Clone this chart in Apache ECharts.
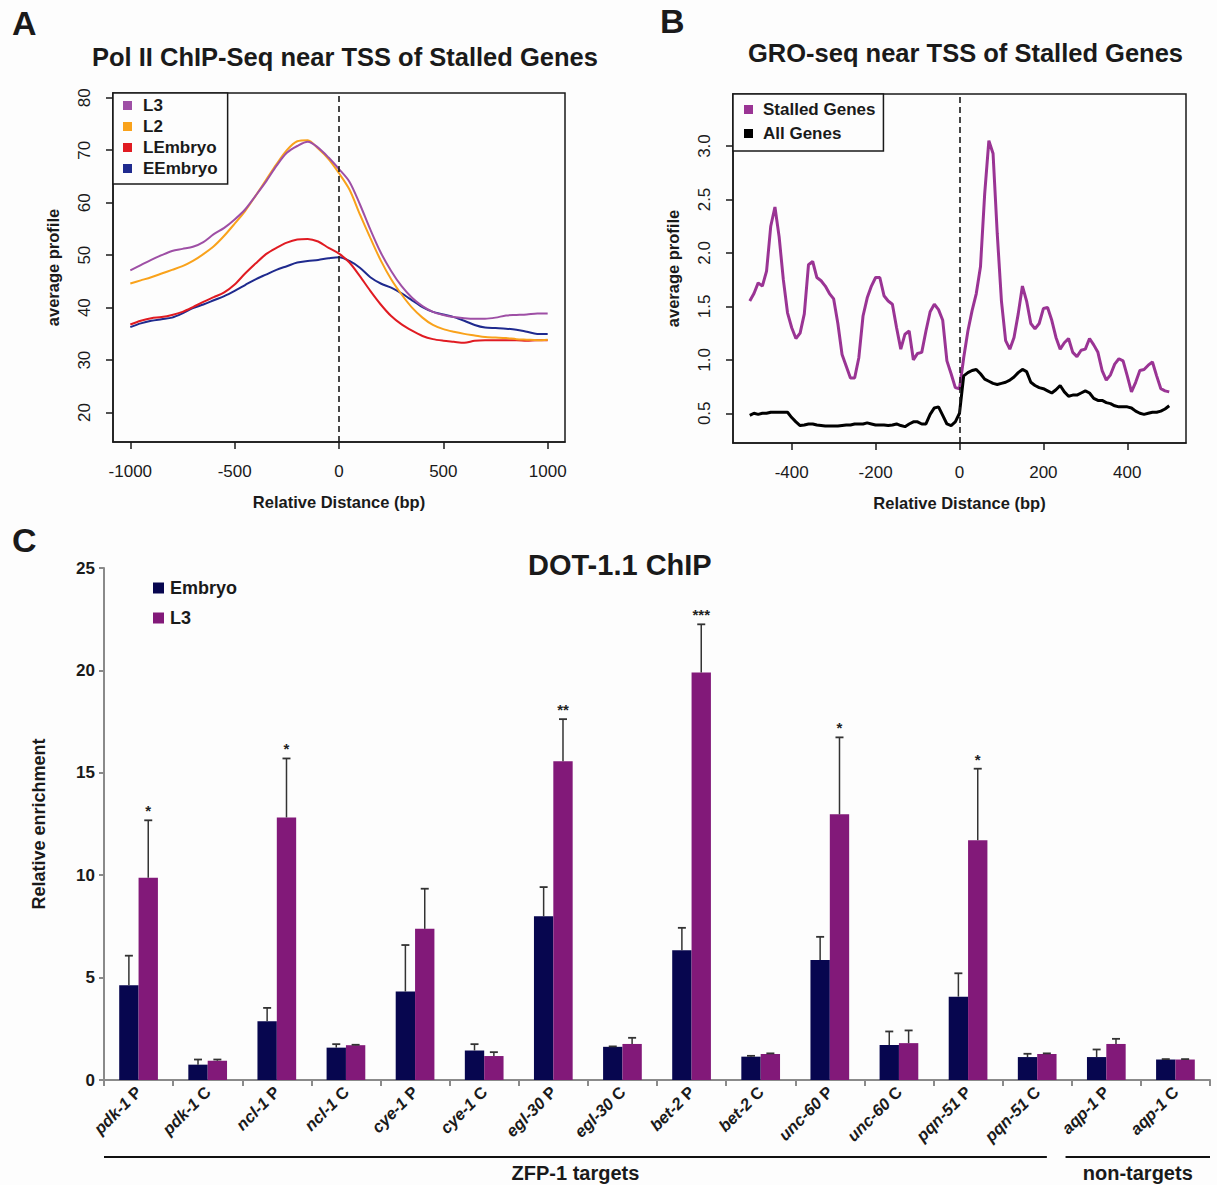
<!DOCTYPE html>
<html><head><meta charset="utf-8">
<script src="https://cdn.jsdelivr.net/npm/echarts@6/dist/echarts.min.js"></script>
<style>
html,body{margin:0;padding:0;background:#fdfdfd;}
#wrap{position:relative;width:1217px;height:1185px;background:#fdfdfd;overflow:hidden;}
#a{position:absolute;left:0;top:0;width:608px;height:520px;}
#b{position:absolute;left:608px;top:0;width:609px;height:520px;}
#c{position:absolute;left:0;top:520px;width:1217px;height:665px;}
</style></head><body>
<div id="wrap"><div id="a"></div><div id="b"></div><div id="c"></div></div>
<script>
// ---------------- Panel A data ----------------
var XA = [-1000,-950,-900,-850,-800,-750,-700,-650,-600,-550,-500,-450,-400,-350,-300,-250,-200,-150,-100,-50,0,50,100,150,200,250,300,350,400,450,500,550,600,650,700,750,800,850,900,950,1000];
var A_L3 = [47.1,48.1,49.1,50.0,50.8,51.2,51.6,52.5,54.0,55.2,56.8,58.7,61.3,64.0,67.0,69.5,70.8,71.6,70.5,68.6,66.4,64.0,59.7,54.9,50.5,47.0,44.1,41.9,40.3,39.2,38.6,38.2,38.0,37.9,37.9,38.1,38.5,38.6,38.7,38.9,38.9];
var A_L2 = [44.6,45.2,45.8,46.5,47.2,47.9,48.9,50.2,51.7,53.7,56.0,58.4,61.3,64.3,67.3,70.0,71.7,71.9,70.3,68.3,65.6,62.5,57.8,53.3,49.0,45.4,42.5,40.0,38.1,36.7,35.9,35.4,35.0,34.7,34.4,34.3,34.2,34.0,33.9,33.8,33.9];
var A_LEMB = [36.8,37.5,38.0,38.2,38.6,39.2,40.1,41.1,42.0,42.9,44.4,46.5,48.4,50.2,51.4,52.4,53.0,53.1,52.6,51.4,50.3,48.6,46.0,43.2,40.6,38.4,36.8,35.6,34.6,34.0,33.7,33.5,33.3,33.7,33.8,33.8,33.8,33.8,33.7,33.8,33.8];
var A_EEMB = [36.3,37.0,37.5,37.8,38.1,38.9,39.9,40.6,41.4,42.2,43.2,44.3,45.4,46.3,47.2,47.9,48.6,48.9,49.1,49.4,49.6,48.9,47.6,45.8,44.6,43.8,42.7,41.4,40.1,39.2,38.7,38.2,37.5,36.7,36.2,36.1,36.0,35.8,35.4,35.0,35.0];
var A_XTICKS = [-1000,-500,0,500,1000];
var A_YTICKS = [20,30,40,50,60,70,80];

// ---------------- Panel B data ----------------
var XB = [-500,-490,-480,-470,-460,-450,-440,-430,-420,-410,-400,-390,-380,-370,-360,-350,-340,-330,-320,-310,-300,-290,-280,-270,-260,-250,-240,-230,-220,-210,-200,-190,-180,-170,-160,-150,-140,-130,-120,-110,-100,-90,-80,-70,-60,-50,-40,-30,-20,-10,0,10,20,30,40,50,60,70,80,90,100,110,120,130,140,150,160,170,180,190,200,210,220,230,240,250,260,270,280,290,300,310,320,330,340,350,360,370,380,390,400,410,420,430,440,450,460,470,480,490,500];
var B_STALLED = [1.55,1.62,1.72,1.69,1.83,2.25,2.43,2.15,1.75,1.44,1.30,1.20,1.25,1.43,1.89,1.92,1.77,1.74,1.69,1.62,1.57,1.34,1.05,0.94,0.83,0.83,1.02,1.41,1.58,1.69,1.77,1.77,1.60,1.55,1.52,1.30,1.10,1.24,1.27,1.00,1.06,1.07,1.27,1.45,1.52,1.47,1.37,0.99,0.87,0.74,0.73,
  1.02,1.27,1.46,1.62,1.87,2.55,3.05,2.93,2.18,1.55,1.18,1.10,1.21,1.43,1.69,1.55,1.34,1.29,1.34,1.48,1.49,1.37,1.21,1.10,1.16,1.20,1.07,1.03,1.09,1.10,1.20,1.14,1.07,0.90,0.81,0.86,0.96,1.01,0.99,0.85,0.70,0.79,0.90,0.91,0.95,0.98,0.85,0.73,0.71,0.70];
var B_ALL = [0.48,0.50,0.49,0.50,0.50,0.51,0.51,0.51,0.51,0.51,0.46,0.42,0.385,0.39,0.40,0.40,0.39,0.385,0.38,0.38,0.38,0.38,0.385,0.39,0.39,0.40,0.40,0.40,0.41,0.40,0.39,0.39,0.39,0.385,0.39,0.40,0.385,0.375,0.40,0.42,0.42,0.40,0.40,0.49,0.55,0.56,0.48,0.40,0.385,0.42,0.50,
  0.85,0.88,0.90,0.91,0.87,0.82,0.80,0.78,0.77,0.78,0.79,0.81,0.84,0.88,0.91,0.89,0.79,0.76,0.74,0.73,0.71,0.69,0.72,0.76,0.70,0.66,0.67,0.67,0.69,0.71,0.69,0.64,0.62,0.62,0.60,0.59,0.57,0.56,0.56,0.56,0.55,0.52,0.50,0.49,0.50,0.51,0.51,0.52,0.54,0.57];
var B_XTICKS = [-400,-200,0,200,400];
var B_YTICKS = [0.5,1.0,1.5,2.0,2.5,3.0];

// ---------------- Panel C data ----------------
var C_CATS = ['pdk-1 P','pdk-1 C','ncl-1 P','ncl-1 C','cye-1 P','cye-1 C','egl-30 P','egl-30 C','bet-2 P','bet-2 C','unc-60 P','unc-60 C','pqn-51 P','pqn-51 C','aqp-1 P','aqp-1 C'];
var C_EMBRYO = [4.63,0.75,2.87,1.58,4.32,1.44,7.99,1.62,6.33,1.14,5.86,1.71,4.07,1.12,1.12,1.00];
var C_EMBRYO_ERR = [1.44,0.25,0.65,0.17,2.27,0.31,1.43,0.02,1.10,0.04,1.13,0.66,1.14,0.16,0.37,0.02];
var C_L3 = [9.87,0.94,12.82,1.70,7.38,1.17,15.57,1.76,19.90,1.27,12.97,1.80,11.71,1.27,1.76,1.00];
var C_L3_ERR = [2.81,0.06,2.88,0.02,1.96,0.19,2.05,0.30,2.35,0.03,3.76,0.62,3.49,0.03,0.25,0.02];
var C_STARS = ['*','','*','','','','**','','***','','*','','*','','',''];
var C_GROUPS = [{label:'ZFP-1 targets', from:0, to:13},{label:'non-targets', from:14, to:15}];
var C_YTICK_STEP = 5;

// ---------------- styling ----------------
var FONT = "'Liberation Sans', Arial, Helvetica, sans-serif";
var INK = '#1a1a1a';
var COL_A = {L3:'#9e4fa5', L2:'#f9a21b', LEmbryo:'#e01b22', EEmbryo:'#1f2a8e'};
var COL_B = {stalled:'#9a3494', all:'#000000'};
var COL_C = {emb:'#07064f', l3:'#821979'};
var BAR_FRAC = 0.28;

function zip(xs, ys){ return xs.map(function(x,i){ return [x, ys[i]]; }); }
function plain(v){ return String(v); }

function rAxisX(min, max, ticks, name){
  return {type:'value', min:min, max:max,
    axisLine:{show:true, onZero:false, lineStyle:{color:INK, width:1.5}},
    axisTick:{show:true, length:7, customValues:ticks, lineStyle:{color:INK, width:1.5}},
    axisLabel:{customValues:ticks, margin:21, fontSize:17, color:INK, fontFamily:FONT, formatter:plain},
    splitLine:{show:false},
    name:name, nameLocation:'middle', nameGap:51,
    nameTextStyle:{fontSize:16.5, fontWeight:'bold', color:INK, fontFamily:FONT}};
}
function rAxisY(min, max, ticks, name, fmt){
  return {type:'value', min:min, max:max,
    axisLine:{show:true, onZero:false, lineStyle:{color:INK, width:1.5}},
    axisTick:{show:true, length:7, customValues:ticks, lineStyle:{color:INK, width:1.5}},
    axisLabel:{customValues:ticks, margin:20, rotate:90, fontSize:17, color:INK, fontFamily:FONT, formatter:fmt},
    splitLine:{show:false},
    name:name, nameLocation:'middle', nameGap:52,
    nameTextStyle:{fontSize:16.5, fontWeight:'bold', color:INK, fontFamily:FONT}};
}
var dashLine = {silent:true, symbol:['none','none'], label:{show:false},
  lineStyle:{color:INK, width:1.6, type:[6,4]}, emphasis:{disabled:true}, data:[{xAxis:0}]};

// ---------------- Panel A ----------------
var chartA = echarts.init(document.getElementById('a'), null, {renderer:'svg'});
chartA.setOption({
  animation:false,
  textStyle:{fontFamily:FONT},
  title:[
    {text:'A', left:12, top:6, padding:0, textStyle:{fontSize:34, fontWeight:'bold', color:INK, fontFamily:FONT}},
    {text:'Pol II ChIP-Seq near TSS of Stalled Genes', left:92, top:44, padding:0, textStyle:{fontSize:25.5, fontWeight:'bold', color:INK, fontFamily:FONT}}
  ],
  legend:{left:113, top:93, orient:'vertical', icon:'rect', itemWidth:9, itemHeight:9, itemGap:4,
    padding:[4,10,7,10], borderColor:INK, borderWidth:1.5, backgroundColor:'#fdfdfd',
    textStyle:{fontSize:17, fontWeight:'bold', color:INK, lineHeight:17, padding:[0,0,0,6], fontFamily:FONT},
    data:['L3','L2','LEmbryo','EEmbryo']},
  grid:{left:113, top:93, width:452, height:349, show:true, borderColor:INK, borderWidth:1.5},
  xAxis:rAxisX(-1083, 1083, A_XTICKS, 'Relative Distance (bp)'),
  yAxis:rAxisY(14.4, 80.9, A_YTICKS, 'average profile', plain),
  series:[
    {name:'EEmbryo', type:'line', data:zip(XA, A_EEMB), showSymbol:false, smooth:0.3, lineStyle:{width:2, color:COL_A.EEmbryo}, itemStyle:{color:COL_A.EEmbryo}},
    {name:'LEmbryo', type:'line', data:zip(XA, A_LEMB), showSymbol:false, smooth:0.3, lineStyle:{width:2, color:COL_A.LEmbryo}, itemStyle:{color:COL_A.LEmbryo}},
    {name:'L2', type:'line', data:zip(XA, A_L2), showSymbol:false, smooth:0.3, lineStyle:{width:2, color:COL_A.L2}, itemStyle:{color:COL_A.L2}},
    {name:'L3', type:'line', data:zip(XA, A_L3), showSymbol:false, smooth:0.3, lineStyle:{width:2, color:COL_A.L3}, itemStyle:{color:COL_A.L3}, markLine:dashLine}
  ]
});

// ---------------- Panel B ----------------
var chartB = echarts.init(document.getElementById('b'), null, {renderer:'svg'});
chartB.setOption({
  animation:false,
  textStyle:{fontFamily:FONT},
  title:[
    {text:'B', left:52, top:4, padding:0, textStyle:{fontSize:34, fontWeight:'bold', color:INK, fontFamily:FONT}},
    {text:'GRO-seq near TSS of Stalled Genes', left:140, top:40, padding:0, textStyle:{fontSize:25.5, fontWeight:'bold', color:INK, fontFamily:FONT}}
  ],
  legend:{left:125, top:94, orient:'vertical', icon:'rect', itemWidth:9, itemHeight:9, itemGap:7,
    padding:[7,8,9,11], borderColor:INK, borderWidth:1.5, backgroundColor:'#fdfdfd',
    textStyle:{fontSize:17, fontWeight:'bold', color:INK, lineHeight:17, padding:[0,0,0,5], fontFamily:FONT},
    data:['Stalled Genes','All Genes']},
  grid:{left:125, top:94, width:453, height:349, show:true, borderColor:INK, borderWidth:1.5},
  xAxis:rAxisX(-540, 540, B_XTICKS, 'Relative Distance (bp)'),
  yAxis:rAxisY(0.222, 3.487, B_YTICKS, 'average profile', function(v){return v.toFixed(1);}),
  series:[
    {name:'Stalled Genes', type:'line', data:zip(XB, B_STALLED), showSymbol:false, lineStyle:{width:3, color:COL_B.stalled}, itemStyle:{color:COL_B.stalled}, markLine:dashLine},
    {name:'All Genes', type:'line', data:zip(XB, B_ALL), showSymbol:false, lineStyle:{width:3, color:COL_B.all}, itemStyle:{color:COL_B.all}}
  ]
});

// ---------------- Panel C ----------------
var errData = [];
C_CATS.forEach(function(c,i){
  errData.push([i, C_EMBRYO[i], C_EMBRYO_ERR[i], 0]);
  errData.push([i, C_L3[i], C_L3_ERR[i], 1]);
});
var starData = [];
C_CATS.forEach(function(c,i){ starData.push(''); starData.push(C_STARS[i]); });

var chartC = echarts.init(document.getElementById('c'), null, {renderer:'svg'});
chartC.setOption({
  animation:false,
  textStyle:{fontFamily:FONT},
  title:[
    {text:'C', left:12, top:3, padding:0, textStyle:{fontSize:34, fontWeight:'bold', color:INK, fontFamily:FONT}},
    {text:'DOT-1.1 ChIP', left:528, top:30, padding:0, textStyle:{fontSize:29, fontWeight:'bold', color:INK, fontFamily:FONT}}
  ],
  legend:{left:148, top:54, orient:'vertical', icon:'rect', itemWidth:11, itemHeight:11, itemGap:12,
    textStyle:{fontSize:18, fontWeight:'bold', color:INK, lineHeight:18, padding:[0,0,0,1], fontFamily:FONT},
    data:['Embryo','L3']},
  grid:{left:104, top:48, width:1106, height:512},
  xAxis:{type:'category', data:C_CATS,
    axisLine:{show:true, lineStyle:{color:'#8a8a8a', width:2}},
    axisTick:{show:true, length:6, lineStyle:{color:'#8a8a8a', width:2}},
    axisLabel:{interval:0, rotate:45, margin:9, color:INK,
      formatter:function(v){ var k=v.lastIndexOf(' '); return '{g|'+v.slice(0,k)+'}{s| '+v.slice(k+1)+'}'; },
      rich:{g:{fontStyle:'italic', fontWeight:'bold', fontSize:16.5, color:INK, fontFamily:FONT},
            s:{fontWeight:'bold', fontSize:16.5, color:INK, fontFamily:FONT}}}},
  yAxis:{type:'value', min:0, max:25, interval:C_YTICK_STEP,
    axisLine:{show:true, lineStyle:{color:'#8a8a8a', width:2}},
    axisTick:{show:true, length:5, lineStyle:{color:'#8a8a8a', width:2}},
    axisLabel:{fontSize:17, fontWeight:'bold', color:INK, margin:9, fontFamily:FONT},
    splitLine:{show:false},
    name:'Relative enrichment', nameLocation:'middle', nameGap:56,
    nameTextStyle:{fontSize:18, fontWeight:'bold', color:INK, fontFamily:FONT}},
  series:[
    {name:'Embryo', type:'bar', data:C_EMBRYO, barWidth:(BAR_FRAC*100)+'%', barGap:'0%', itemStyle:{color:COL_C.emb}},
    {name:'L3', type:'bar', data:C_L3, barWidth:(BAR_FRAC*100)+'%', barGap:'0%', itemStyle:{color:COL_C.l3}},
    {name:'err', type:'custom', data:errData, encode:{x:0, y:1}, z:5, silent:true,
      renderItem:function(params, api){
        var i=api.value(0), v=api.value(1), e=api.value(2), side=api.value(3);
        var cw = api.size([1,0])[0];
        var bw = cw*BAR_FRAC;
        var base = api.coord([i, v]);
        var top = api.coord([i, v+e]);
        var x = base[0] + (side ? bw/2 : -bw/2);
        var kids = [
          {type:'line', shape:{x1:x, y1:base[1], x2:x, y2:top[1]}, style:{stroke:'#333', lineWidth:1.5}},
          {type:'line', shape:{x1:x-4, y1:top[1], x2:x+4, y2:top[1]}, style:{stroke:'#333', lineWidth:1.8}}
        ];
        var s = starData[params.dataIndex];
        if (s) kids.push({type:'text', style:{text:s, x:x, y:top[1]-2, align:'center', verticalAlign:'bottom', fontSize:15, fontWeight:'bold', fill:'#222', fontFamily:FONT}});
        return {type:'group', children:kids};
      }}
  ]
});
// group brackets under the category labels, positioned from the category scale
(function(){
  var c0 = chartC.convertToPixel({xAxisIndex:0}, 0);
  var c1 = chartC.convertToPixel({xAxisIndex:0}, 1);
  var cw = c1 - c0;
  var last = C_CATS.length - 1;
  var g = [];
  C_GROUPS.forEach(function(gr){
    var x1 = chartC.convertToPixel({xAxisIndex:0}, gr.from) - (gr.from===0 ? 0.5 : 0.59)*cw;
    var x2 = chartC.convertToPixel({xAxisIndex:0}, gr.to) + (gr.to===last ? 0.5 : 0.14)*cw;
    g.push({type:'line', shape:{x1:x1, y1:637, x2:x2, y2:637}, style:{stroke:'#111', lineWidth:2}});
    g.push({type:'text', x:(x1+x2)/2, y:643, style:{text:gr.label, align:'center', verticalAlign:'top', fontSize:20, fontWeight:'bold', fill:INK, fontFamily:FONT}});
  });
  chartC.setOption({graphic:g});
})();
</script></body></html>
